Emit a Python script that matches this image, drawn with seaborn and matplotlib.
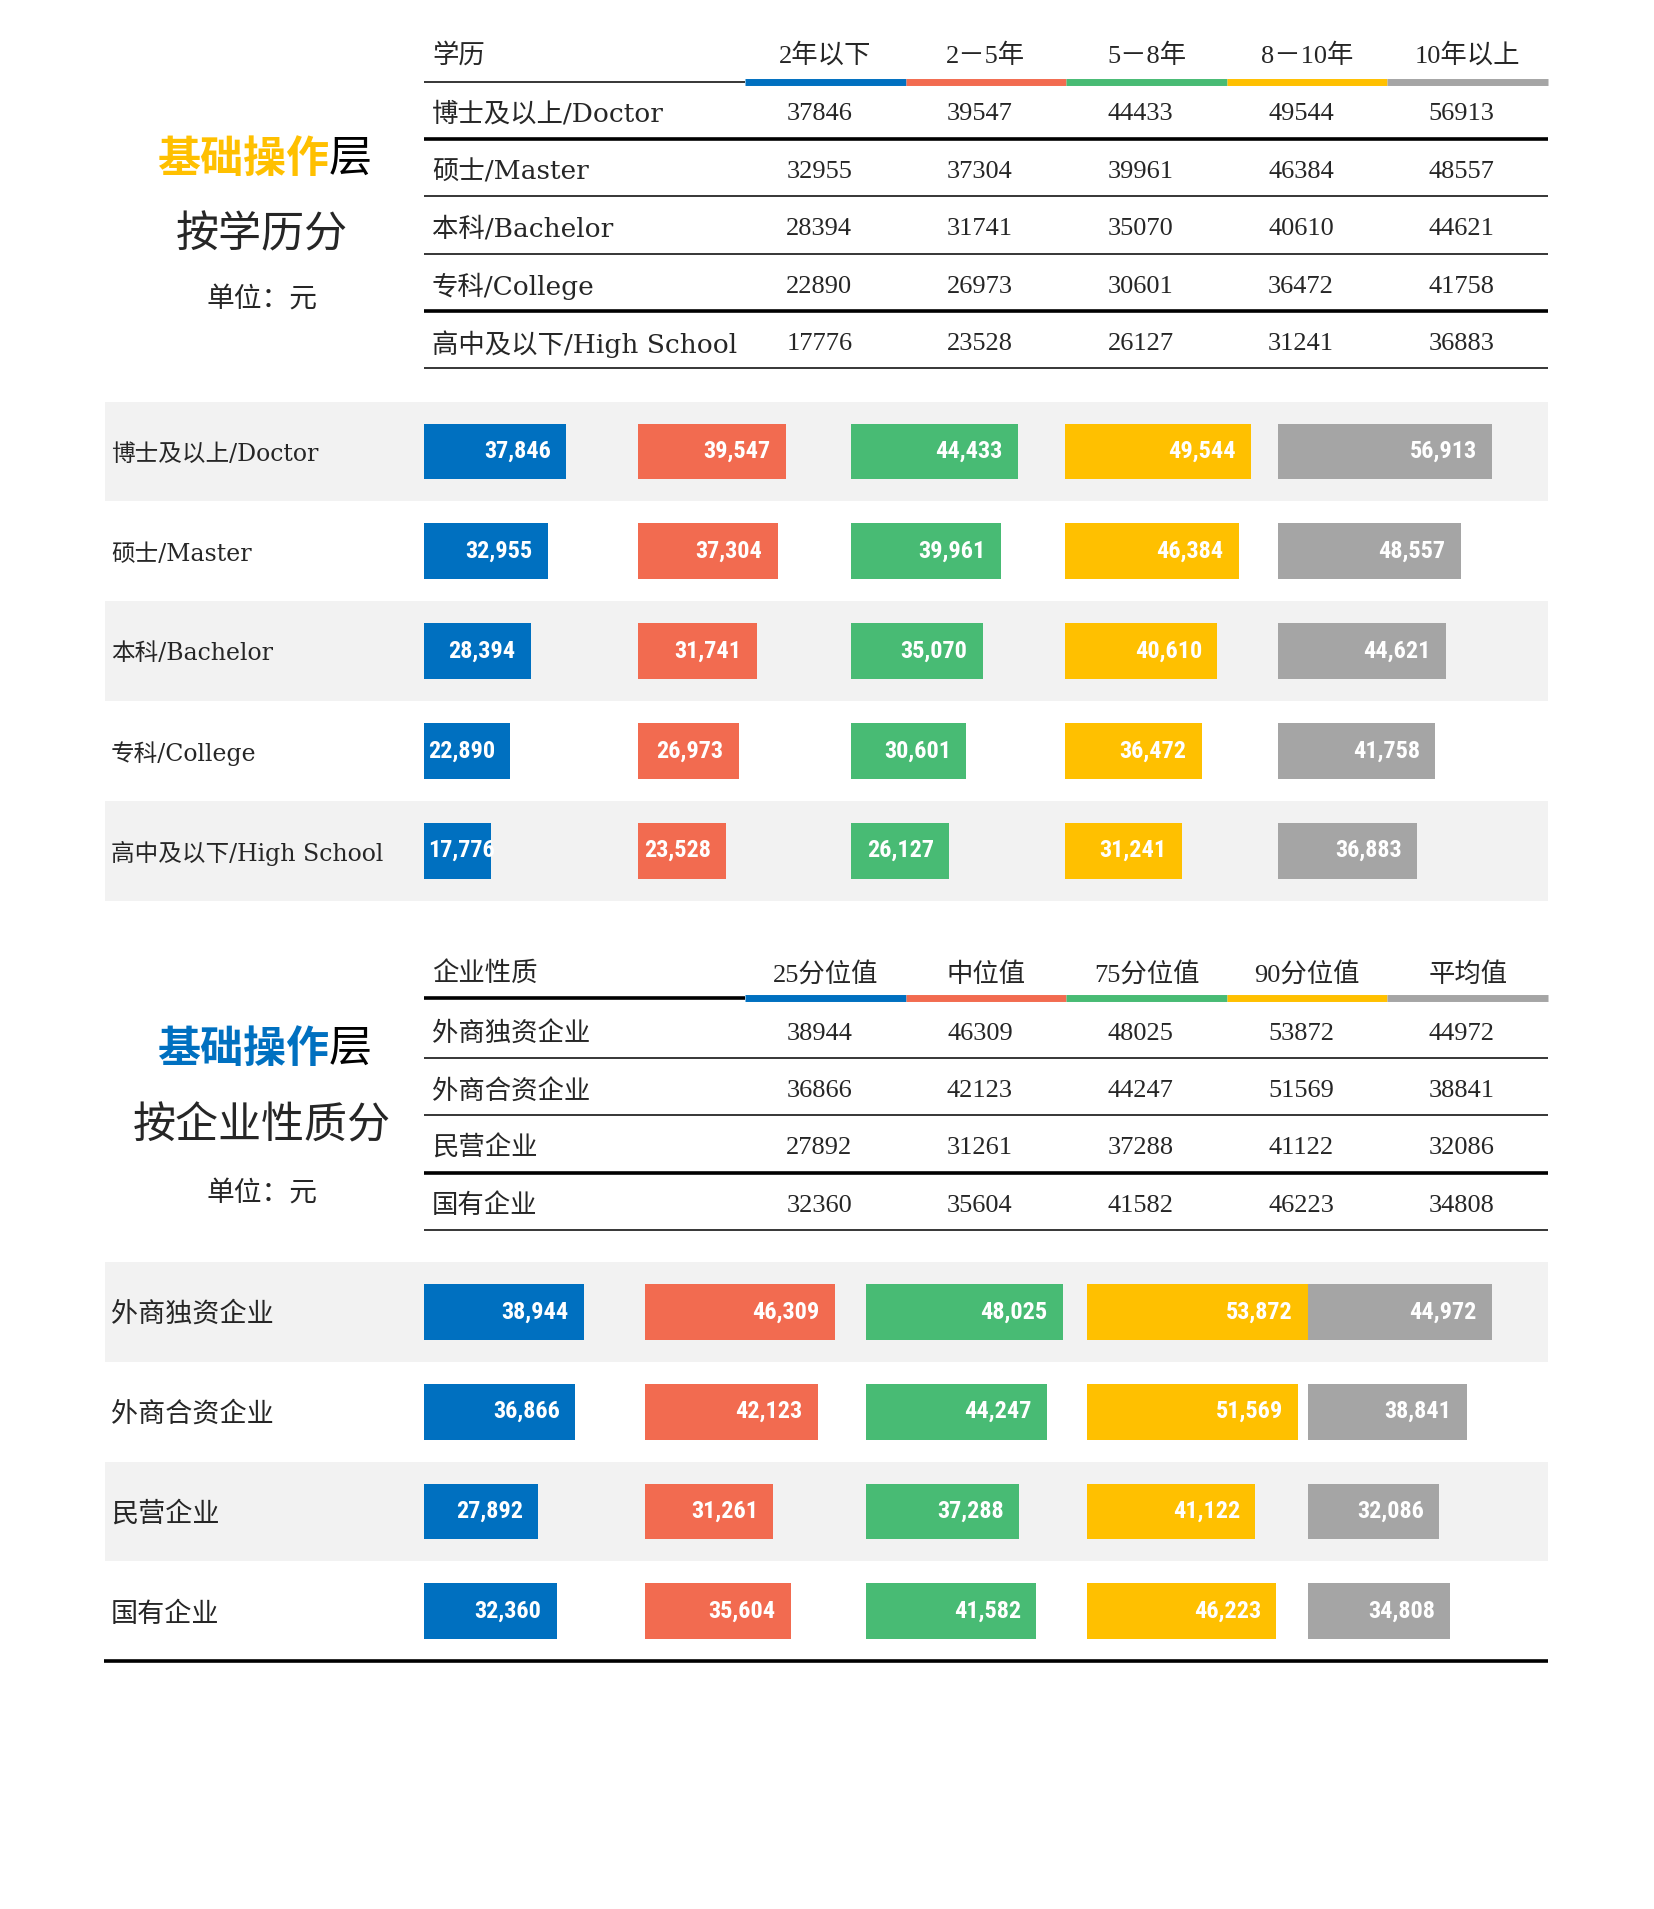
import pandas as pd
import seaborn as sns
import matplotlib.pyplot as plt
from matplotlib import font_manager

# ---- data ----
edu_levels = ['博士及以上/Doctor', '硕士/Master', '本科/Bachelor', '专科/College', '高中及以下/High School']
exp_groups = ['2年以下', '2－5年', '5－8年', '8－10年', '10年以上']
exp_lt2 = [37846, 32955, 28394, 22890, 17776]
exp_2_5 = [39547, 37304, 31741, 26973, 23528]
exp_5_8 = [44433, 39961, 35070, 30601, 26127]
exp_8_10 = [49544, 46384, 40610, 36472, 31241]
exp_gt10 = [56913, 48557, 44621, 41758, 36883]

firm_types = ['外商独资企业', '外商合资企业', '民营企业', '国有企业']
firm_stats = ['25分位值', '中位值', '75分位值', '90分位值', '平均值']
firm_p25 = [38944, 36866, 27892, 32360]
firm_p50 = [46309, 42123, 31261, 35604]
firm_p75 = [48025, 44247, 37288, 41582]
firm_p90 = [53872, 51569, 41122, 46223]
firm_mean = [44972, 38841, 32086, 34808]

colors = ['#0070C0', '#F26B50', '#48BB74', '#FFC000', '#A5A5A5']
band_color = '#F2F2F2'

df_edu = pd.DataFrame({'学历': edu_levels})
for name, vals in zip(exp_groups, [exp_lt2, exp_2_5, exp_5_8, exp_8_10, exp_gt10]):
    df_edu[name] = vals

df_firm = pd.DataFrame({'企业性质': firm_types})
for name, vals in zip(firm_stats, [firm_p25, firm_p50, firm_p75, firm_p90, firm_mean]):
    df_firm[name] = vals

# ---- fonts ----
sns.set_theme(style='white')
avail = {f.name for f in font_manager.fontManager.ttflist}
CJK = 'Noto Sans CJK SC'
label_font = ['DejaVu Serif', CJK]
num_font = ['Liberation Serif', CJK]
narrow = next((f for f in ['Liberation Sans Narrow', 'Roboto Condensed'] if f in avail), 'DejaVu Sans')
plt.rcParams['font.family'] = [CJK, 'DejaVu Sans']

# ---- figure in pixel layout ----
W, H = 1654, 1909
fig = plt.figure(figsize=(W / 100, H / 100), dpi=100)
canvas = fig.add_axes([0, 0, 1, 1])
canvas.set_xlim(0, W)
canvas.set_ylim(H, 0)
canvas.axis('off')


def px_axes(x0, y0, x1, y1):
    ax = fig.add_axes([x0 / W, 1 - y1 / H, (x1 - x0) / W, (y1 - y0) / H])
    ax.set_facecolor('none')
    return ax


TAB_L, TAB_R = 424, 1548
SEG_L = 745
SEG_W = (TAB_R - SEG_L) / 5
BAR_L = 424
DY = 2.5  # small downward nudge so CJK text sits on the row centre
value_labels = []


def draw_title(y, title_color):
    split_x = 329
    canvas.text(split_x, y, '基础操作', color=title_color, fontsize=31, fontweight='bold',
                ha='right', va='center')
    canvas.text(split_x, y, '层', color='black', fontsize=31, ha='left', va='center')


def draw_table(df, label_col, value_cols, header_y, line_y, row_y0, row_step,
               thick_rows, header_lw):
    canvas.text(TAB_L + 8, header_y + DY, label_col, fontsize=19, family=label_font,
                ha='left', va='center')
    canvas.plot([TAB_L, SEG_L], [line_y, line_y], color='black', lw=header_lw,
                solid_capstyle='butt')
    for j, col in enumerate(value_cols):
        x0 = SEG_L + j * SEG_W
        canvas.plot([x0, x0 + SEG_W], [line_y, line_y], color=colors[j], lw=5,
                    solid_capstyle='butt')
        canvas.text(x0 + SEG_W / 2, header_y + DY, col, fontsize=19, family=num_font,
                    ha='center', va='center')
    for i, row in df.iterrows():
        y = row_y0 + i * row_step
        canvas.text(TAB_L + 8, y + DY, row[label_col], fontsize=19, family=label_font,
                    ha='left', va='center')
        for j, col in enumerate(value_cols):
            canvas.text(SEG_L + j * SEG_W + SEG_W / 2 - 6, y + DY, str(row[col]),
                        fontsize=19, family=num_font, ha='center', va='center')
        ly = y + row_step / 2 - 2
        canvas.plot([TAB_L, TAB_R], [ly, ly], color='black',
                    lw=2.6 if i in thick_rows else 1.1, solid_capstyle='butt')


def draw_bars(df, label_col, value_cols, top_y, band_h, slot_w, label_size):
    n = len(df)
    vmax = max(df[c].max() for c in value_cols)
    band_ax = px_axes(105, top_y, TAB_R, top_y + n * band_h)
    band_ax.set_xlim(0, 1)
    band_ax.set_ylim(n - 0.5, -0.5)
    band_ax.axis('off')
    for i in range(0, n, 2):
        band_ax.axhspan(i - 0.5, i + 0.5, color=band_color, lw=0)
    for i, lab in enumerate(df[label_col]):
        band_ax.annotate(lab, xy=(0.004, i), xytext=(0, -2), textcoords='offset points',
                         fontsize=label_size, family=label_font, ha='left', va='center')
    for j, col in enumerate(value_cols):
        ax = px_axes(BAR_L + j * slot_w, top_y, BAR_L + (j + 1) * slot_w, top_y + n * band_h)
        sns.barplot(data=df, x=col, y=label_col, orient='h', color=colors[j],
                    saturation=1, width=0.56, linewidth=0, edgecolor='none', ax=ax)
        ax.set_xlim(0, vmax)
        ax.set_ylim(n - 0.5, -0.5)
        ax.axis('off')
        for i, v in enumerate(df[col]):
            ann = ax.annotate(f'{v:,}', xy=(v, i), xytext=(-11, 0), textcoords='offset points',
                              ha='right', va='center', color='white', fontsize=17.5,
                              fontweight='bold', family=[narrow, 'DejaVu Sans'],
                              fontstretch='condensed')
            value_labels.append((ax, ann, i))


# ---- section 1: by education ----
draw_title(159, '#FFC000')
canvas.text(262, 235, '按学历分', fontsize=31, ha='center', va='center')
canvas.text(262, 299, '单位：元', fontsize=20, ha='center', va='center')
draw_table(df_edu, '学历', exp_groups, 53, 81.5, 112, 57.4, {0, 3}, 1.1)
draw_bars(df_edu, '学历', exp_groups, 401.6, 99.8, 213.6, 17)

# ---- section 2: by firm type ----
draw_title(1049, '#0070C0')
canvas.text(262, 1126, '按企业性质分', fontsize=31, ha='center', va='center')
canvas.text(262, 1193, '单位：元', fontsize=20, ha='center', va='center')
draw_table(df_firm, '企业性质', firm_stats, 972, 998, 1031, 57.4, {2}, 2.6)
draw_bars(df_firm, '企业性质', firm_stats, 1262, 99.8, 220.9, 19.5)
canvas.plot([104, TAB_R], [1661, 1661], color='black', lw=2.6, solid_capstyle='butt')

# labels that do not fit inside their bar start at the bar's left edge instead
fig.canvas.draw()
renderer = fig.canvas.get_renderer()
for ax, ann, i in value_labels:
    left_px = ax.transData.transform((0, i))[0]
    if ann.get_window_extent(renderer).x0 < left_px + 4:
        ann.xy = (0, i)
        ann.set_position((3, 0))
        ann.set_ha('left')

fig.savefig('out.png', dpi=100, facecolor='white')
